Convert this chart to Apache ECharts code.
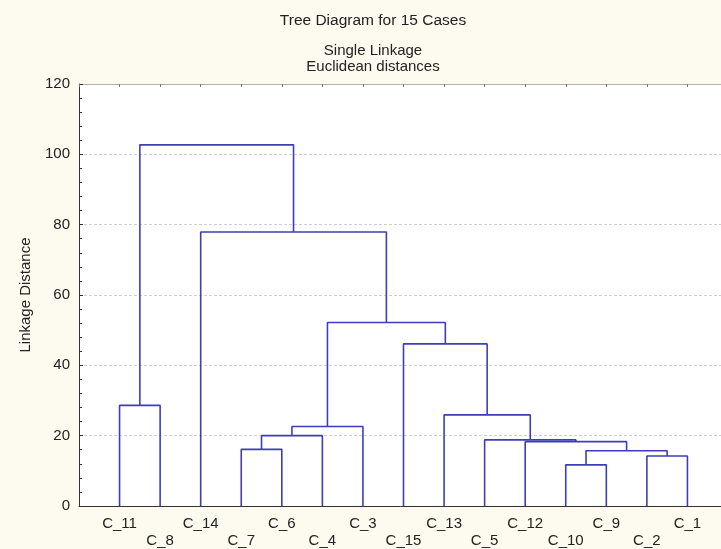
<!DOCTYPE html>
<html>
<head>
<meta charset="utf-8">
<script src="https://cdn.jsdelivr.net/npm/echarts@6/dist/echarts.min.js"></script>
<style>
html,body{margin:0;padding:0;background:#fdfaef;}
#chart{width:721px;height:549px;}
</style>
</head>
<body>
<div id="chart"></div>
<script>
// Leaf order along the x axis (left to right)
const leaves = ['C_11','C_8','C_14','C_7','C_6','C_4','C_3','C_15','C_13','C_5','C_12','C_10','C_9','C_2','C_1'];
// Merge steps (single linkage): children and linkage distance; merged clusters named M0, M1, ...
const mergeLeft   = ['C_10','C_2','M0','C_7','C_12','C_5','M3','M6','C_13','C_11','C_15','M7','C_14','M9'];
const mergeRight  = ['C_9','C_1','M1','C_6','M2','M4','C_4','C_3','M5','C_8','M8','M10','M11','M12'];
const mergeHeight = [11.7, 14.2, 15.7, 16.1, 18.3, 18.8, 20.0, 22.6, 25.9, 28.6, 46.1, 52.2, 77.9, 102.7];
const yTicks = [0, 20, 40, 60, 80, 100, 120];
const titleLines = ['Tree Diagram for 15 Cases', 'Single Linkage', 'Euclidean distances'];
const yName = 'Linkage Distance';

const pos = {};
const hgt = {};
leaves.forEach((n, i) => { pos[n] = i + 1; hgt[n] = 0; });
const series = [];
mergeHeight.forEach((h, k) => {
  const a = mergeLeft[k], b = mergeRight[k];
  const xa = pos[a], xb = pos[b];
  series.push({
    type: 'line', symbol: 'none', silent: true, animation: false,
    lineStyle: { color: '#3d3dbb', width: 1.6 },
    data: [[xa, hgt[a]], [xa, h], [xb, h], [xb, hgt[b]]]
  });
  pos['M' + k] = (xa + xb) / 2;
  hgt['M' + k] = h;
});

const chart = echarts.init(document.getElementById('chart'));
const font = 'Liberation Sans, Arial, sans-serif';
chart.setOption({
  backgroundColor: '#fdfaef',
  animation: false,
  textStyle: { fontFamily: font },
  graphic: [
    { type: 'text', x: 373, y: 21, style: { text: titleLines[0], font: '15.5px ' + font, fill: '#222', textAlign: 'center', textVerticalAlign: 'middle' } },
    { type: 'text', x: 373, y: 51, style: { text: titleLines[1], font: '15px ' + font, fill: '#222', textAlign: 'center', textVerticalAlign: 'middle' } },
    { type: 'text', x: 373, y: 67, style: { text: titleLines[2], font: '15px ' + font, fill: '#222', textAlign: 'center', textVerticalAlign: 'middle' } }
  ],
  grid: { left: 79, top: 84, bottom: 43, width: 649, outerBoundsMode: 'none', containLabel: false,
          show: true, backgroundColor: '#ffffff', borderWidth: 0 },
  xAxis: [
    {
      type: 'value', position: 'bottom', min: 0, max: 16, interval: 1,
      axisLine: { show: true, onZero: false, lineStyle: { color: '#333', width: 1 } },
      axisTick: { show: false },
      splitLine: { show: false },
      axisLabel: {
        margin: 9, fontSize: 15, color: '#222', lineHeight: 17, fontFamily: font,
        showMinLabel: true, showMaxLabel: true,
        formatter: v => {
          const i = Math.round(v) - 1;
          if (i < 0 || i >= leaves.length) return '';
          return i % 2 === 0 ? leaves[i] : '\n' + leaves[i];
        }
      }
    },
    {
      type: 'value', position: 'top', min: 0, max: 16, interval: 1,
      axisLine: { show: true, onZero: false, lineStyle: { color: '#b0b0b0', width: 1 } },
      axisTick: { show: true, inside: true, length: 3, lineStyle: { color: '#777' } },
      axisLabel: { show: false },
      splitLine: { show: false }
    }
  ],
  yAxis: {
    type: 'value', min: 0, max: 120, interval: 20,
    name: yName, nameLocation: 'middle', nameGap: 46, nameRotate: 90,
    nameTextStyle: { fontSize: 15, color: '#222', fontFamily: font },
    axisLine: { show: true, lineStyle: { color: '#333', width: 1 } },
    axisTick: { show: true, inside: true, length: 4, lineStyle: { color: '#333' } },
    minorTick: { show: true, splitNumber: 5, length: 3, lineStyle: { color: '#333' } },
    axisLabel: { margin: 9, fontSize: 15, color: '#222', fontFamily: font,
      formatter: v => yTicks.includes(v) ? String(v) : '' },
    splitLine: { show: true, showMinLine: false, showMaxLine: false, lineStyle: { color: '#cfcfcf', type: [3, 2], width: 1 } }
  },
  series: series
});
</script>
</body>
</html>
